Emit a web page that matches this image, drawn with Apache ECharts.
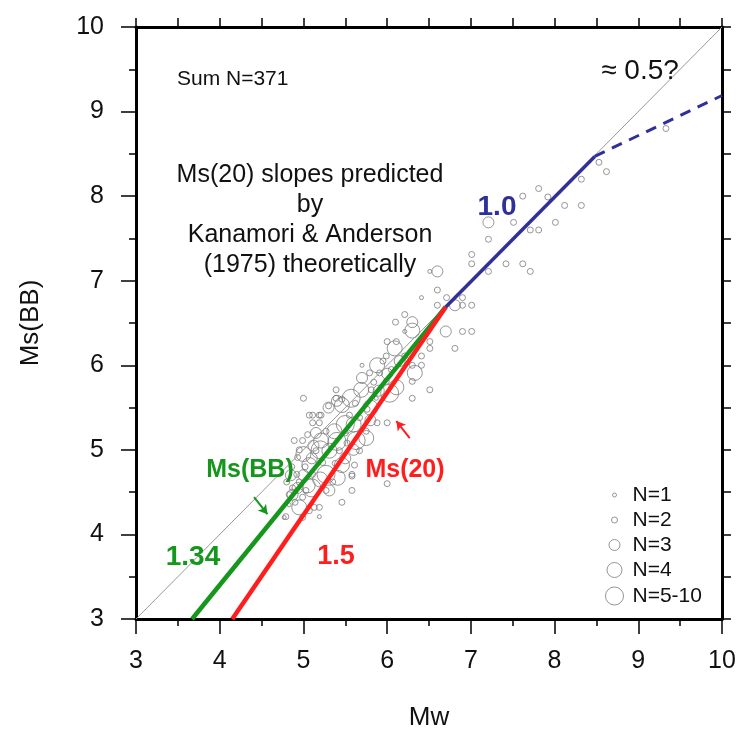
<!DOCTYPE html>
<html>
<head>
<meta charset="utf-8">
<script src="https://cdn.jsdelivr.net/npm/echarts@6/dist/echarts.min.js"></script>
<style>
  html, body { margin: 0; padding: 0; background: #fff; }
  #main { width: 742px; height: 736px; }
</style>
</head>
<body>
<div id="main"></div>
<script>
// tick values
const xTicks = [3, 4, 5, 6, 7, 8, 9, 10]
const yTicks = [3, 4, 5, 6, 7, 8, 9, 10]

// events grouped by how many share a marker: [Mw, Ms(BB)]
const n1 = [
  [4.77, 4.20], [5.19, 4.21], [6.51, 7.11], [6.41, 6.80], [5.87, 5.61],
  [4.83, 4.35], [6.21, 6.40], [5.70, 6.00]
]
const n2 = [
  [9.33, 8.80], [8.53, 8.40], [8.62, 8.29], [8.32, 8.20], [7.81, 8.09],
  [7.92, 7.99], [7.62, 8.00], [8.32, 7.89], [8.12, 7.89], [8.01, 7.69],
  [7.51, 7.69], [7.21, 7.49], [7.71, 7.60], [7.81, 7.60], [7.01, 7.31],
  [7.01, 7.20], [7.21, 7.11], [7.42, 7.20], [7.62, 7.20], [7.71, 7.11],
  [6.60, 6.89], [6.71, 6.80], [6.90, 6.80], [6.90, 6.71], [7.01, 6.71],
  [6.60, 6.71], [6.90, 6.40], [7.01, 6.40], [6.21, 6.60], [6.10, 6.51],
  [6.51, 6.28], [6.81, 6.20], [6.00, 6.28], [6.11, 6.28], [5.99, 6.11],
  [6.21, 6.11], [6.51, 6.20], [6.41, 6.11], [6.30, 6.00], [6.41, 6.00],
  [5.79, 5.91], [5.91, 5.91], [6.30, 5.81], [6.51, 5.71], [5.99, 5.81],
  [5.39, 5.71], [5.81, 5.71], [6.30, 5.61], [5.00, 5.61], [5.11, 5.41],
  [5.21, 5.41], [5.39, 5.61], [5.07, 5.41], [5.19, 5.41], [5.11, 5.32],
  [5.19, 5.32], [5.55, 5.41], [5.67, 5.38], [6.00, 5.32], [5.88, 5.32],
  [4.89, 5.11], [4.99, 5.11], [5.27, 5.22], [5.75, 5.22], [5.15, 4.99],
  [5.43, 4.99], [5.67, 4.99], [4.93, 4.91], [4.92, 4.71], [5.11, 4.71],
  [4.87, 4.55], [5.27, 4.52], [5.58, 4.71], [5.61, 4.82], [6.00, 4.60],
  [5.58, 4.52], [4.99, 4.44], [5.13, 4.32], [5.19, 4.32], [4.99, 4.20],
  [4.79, 4.21], [5.07, 4.28], [5.58, 4.69], [5.46, 5.60], [4.83, 4.47],
  [5.03, 4.52], [4.95, 4.62], [5.35, 4.62], [5.50, 5.20], [5.30, 5.52],
  [5.62, 5.55], [5.76, 5.48], [5.84, 5.80], [5.95, 6.05], [6.05, 5.95],
  [5.52, 5.08], [5.38, 4.84], [5.02, 4.80], [5.23, 4.85], [5.46, 4.38],
  [4.80, 4.62], [4.86, 4.80], [4.95, 5.00], [5.05, 5.18], [4.90, 4.38]
]
const n3 = [
  [7.21, 7.69], [6.60, 7.11], [6.81, 6.71], [6.70, 6.40], [6.30, 6.51],
  [4.87, 4.47], [5.31, 4.52], [5.40, 5.58], [5.00, 4.70], [5.10, 4.90],
  [5.60, 5.00], [5.90, 5.70], [6.00, 5.90], [5.30, 5.50], [5.50, 4.90],
  [4.93, 4.55], [5.15, 5.20], [5.80, 5.35], [5.70, 5.85], [6.15, 6.05],
  [4.85, 4.70], [5.12, 5.05]
]
const n4 = [
  [6.30, 6.41], [6.09, 6.20], [5.88, 6.00], [6.33, 5.91], [5.69, 5.71],
  [6.11, 5.74], [5.46, 5.53], [5.37, 5.22], [5.21, 5.11], [5.31, 4.99],
  [5.75, 5.14], [5.46, 4.82], [5.07, 4.82], [5.41, 4.67], [5.05, 4.58],
  [4.95, 4.32], [5.80, 5.50], [5.20, 4.65], [5.60, 5.30], [5.00, 4.95]
]
const n5 = [
  [5.57, 5.61], [5.63, 5.11], [5.27, 4.71], [5.20, 5.00], [5.50, 5.30],
  [6.03, 5.67], [5.10, 4.55], [5.40, 5.10]
]

// reference lines [Mw, Ms]
const oneToOne = [[3, 3], [10, 10]]
const msBBLine = [[3.67, 3], [6.70, 6.69]]
const ms20Line = [[4.15, 3], [6.70, 6.69]]
const slope10Line = [[6.70, 6.69], [8.48, 8.47]]
const slope05Line = [[8.48, 8.47], [10, 9.19]]
const greenArrow = [[4.41, 4.44], [4.57, 4.24]]
const redArrow = [[6.27, 5.14], [6.11, 5.34]]

const groups = [
  { name: 'N=1', data: n1, size: 4 },
  { name: 'N=2', data: n2, size: 6 },
  { name: 'N=3', data: n3, size: 11 },
  { name: 'N=4', data: n4, size: 15 },
  { name: 'N=5-10', data: n5, size: 18 }
]

const FONT = '"Liberation Sans", Arial, Helvetica, sans-serif'
const GREY = '#7c7c7c'
const GREEN = '#16961c'
const RED = '#ff1e1e'
const BLUE = '#30309a'

const chart = echarts.init(document.getElementById('main'))

const baseAxis = {
  min: 3,
  max: 10,
  interval: 1,
  splitLine: { show: false },
  axisLine: { show: true, onZero: false, lineStyle: { color: '#000', width: 3 } },
  axisTick: { show: true, inside: false, length: 15, lineStyle: { color: '#000', width: 1.5 } },
  minorTick: { show: true, splitNumber: 2, length: 7, lineStyle: { color: '#000', width: 1.5 } },
  axisLabel: { color: '#111', fontSize: 25, fontFamily: FONT },
  nameTextStyle: { color: '#111', fontSize: 26, fontFamily: FONT }
}
const frameAxis = {
  min: 3,
  max: 10,
  interval: 0.5,
  splitLine: { show: false },
  axisLine: { show: true, onZero: false, lineStyle: { color: '#000', width: 3 } },
  axisTick: { show: true, inside: false, length: 9, lineStyle: { color: '#000', width: 1.5 } },
  axisLabel: { show: false }
}

const lineSeries = (data, color, width, type) => ({
  type: 'line',
  data: data,
  symbol: 'none',
  silent: true,
  lineStyle: { color: color, width: width, type: type || 'solid', cap: 'butt' },
  z: 3
})

const arrowSeries = (pts, color) => ({
  type: 'line',
  data: [],
  silent: true,
  markLine: {
    silent: true,
    symbol: ['none', 'arrow'],
    symbolSize: [8, 9],
    label: { show: false },
    lineStyle: { color: color, width: 2, type: 'solid' },
    data: [[{ coord: pts[0] }, { coord: pts[1] }]]
  }
})

const text = (t, x, y, font, color, align) => ({
  type: 'text',
  x: x,
  y: y,
  z: 10,
  style: {
    text: t,
    font: font,
    fill: color,
    textAlign: align || 'center',
    align: align || 'center',
    textVerticalAlign: 'middle',
    verticalAlign: 'middle',
    lineHeight: 30
  }
})

// legend rows: circle centre x 614, text starting at x 632
const legendMid = [495, 520, 545, 570, 596]

chart.setOption({
  animation: false,
  backgroundColor: '#fff',
  grid: { left: 136, top: 27, right: 20, bottom: 114, containLabel: false },
  xAxis: [
    Object.assign({}, baseAxis, {
      type: 'value', position: 'bottom',
      name: 'Mw', nameLocation: 'middle', nameGap: 86,
      axisLabel: Object.assign({}, baseAxis.axisLabel, { margin: 30, customValues: xTicks })
    }),
    Object.assign({}, frameAxis, { type: 'value', position: 'top' })
  ],
  yAxis: [
    Object.assign({}, baseAxis, {
      type: 'value', position: 'left',
      name: 'Ms(BB)', nameLocation: 'middle', nameGap: 92, nameRotate: 90,
      axisLabel: Object.assign({}, baseAxis.axisLabel, { margin: 32, customValues: yTicks })
    }),
    Object.assign({}, frameAxis, { type: 'value', position: 'right' })
  ],
  legend: groups.map((g, i) => ({
    data: [{ name: g.name, icon: 'circle',
      itemStyle: { color: 'rgba(255,255,255,0)', borderColor: GREY, borderWidth: 1 } }],
    left: 614 - g.size / 2,
    top: legendMid[i] - 11,
    padding: 0,
    itemWidth: g.size,
    itemHeight: g.size,
    selectedMode: false,
    textStyle: { color: '#111', fontSize: 21, fontFamily: FONT,
      padding: [0, 0, 0, 13 - g.size / 2], lineHeight: 22 }
  })),
  series: [
    lineSeries(oneToOne, '#999', 1),
    ...groups.map(g => ({
      type: 'scatter',
      name: g.name,
      data: g.data,
      symbol: 'circle',
      symbolSize: g.size,
      itemStyle: { color: 'rgba(255,255,255,0)', borderColor: GREY, borderWidth: 1 },
      z: 2
    })),
    lineSeries(msBBLine, GREEN, 4.5),
    lineSeries(ms20Line, RED, 4.5),
    lineSeries(slope10Line, BLUE, 3.5),
    lineSeries(slope05Line, BLUE, 3, [11, 8]),
    arrowSeries(greenArrow, GREEN),
    arrowSeries(redArrow, RED)
  ],
  graphic: [
    text('Sum N=371', 177, 79, '21px ' + FONT, '#111', 'left'),
    text('\u2248 0.5?', 640, 71, '28px ' + FONT, '#111'),
    text('Ms(20) slopes predicted\nby\nKanamori & Anderson\n(1975) theoretically', 310, 220, '25px ' + FONT, '#111'),
    text('1.0', 497, 207, 'bold 28px ' + FONT, BLUE),
    text('Ms(BB)', 250, 470, 'bold 25px ' + FONT, GREEN),
    text('Ms(20)', 405, 470, 'bold 25px ' + FONT, RED),
    text('1.34', 193, 557, 'bold 28px ' + FONT, GREEN),
    text('1.5', 336, 557, 'bold 27px ' + FONT, RED)
  ]
})
</script>
</body>
</html>
